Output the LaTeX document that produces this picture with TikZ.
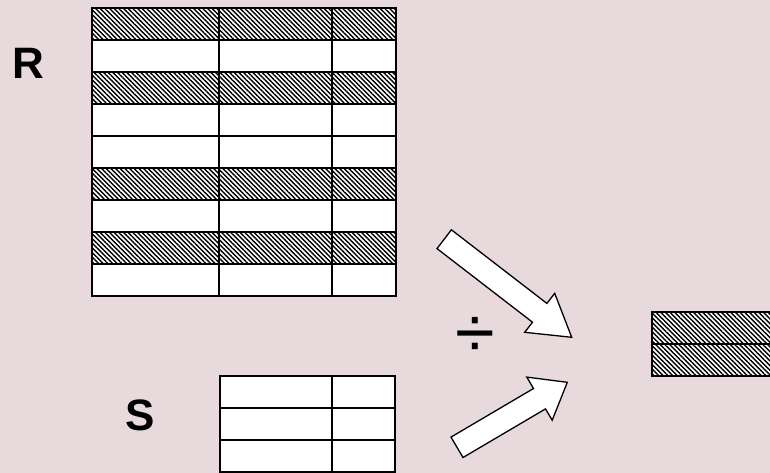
\documentclass[tikz,border=0pt]{standalone}
\usepackage{fontspec}
\setmainfont{Liberation Sans}
\usetikzlibrary{patterns.meta}
\definecolor{bg}{RGB}{232,217,221}
\begin{document}
\begin{tikzpicture}[x=1pt,y=-1pt,
  grid/.style={draw=black,line width=2pt},
  hatch/.style={pattern={Lines[angle=-45,distance=3.3pt,line width=1.4pt]},pattern color=black},
  blockarrow/.style={draw=black,line width=1.3pt,fill=white,line join=miter},
  lbl/.style={inner sep=0pt,font=\fontsize{44}{44}\selectfont\bfseries}]
\useasboundingbox (0,0) rectangle (770,473);
\fill[bg] (0,0) rectangle (770,473);
% ---- table R ----
\fill[white] (92,8) rectangle (396,296);
\foreach \r in {0,2,5,7} \fill[hatch] (92,{8+32*\r}) rectangle (396,{40+32*\r});
\foreach \r in {1,...,8} \draw[grid] (92,{8+32*\r}) -- (396,{8+32*\r});
\draw[grid] (219,8) -- (219,296) (332,8) -- (332,296);
\draw[grid] (92,8) rectangle (396,296);
% ---- table S ----
\fill[white] (220,376) rectangle (395,472);
\draw[grid] (220,408) -- (395,408) (220,440) -- (395,440) (332,376) -- (332,472);
\draw[grid] (220,376) rectangle (395,472);
% ---- result table ----
\fill[white] (652,312) rectangle (772,376);
\fill[hatch] (652,312) rectangle (772,376);
\draw[grid] (652,344) -- (772,344);
\draw[grid] (772,312) -- (652,312) -- (652,376) -- (772,376);
% ---- labels ----
\node[lbl] (R) at (28,63) {R};
\node[lbl] (S) at (140,415) {S};
\node[inner sep=0pt,font=\fontsize{72}{72}\selectfont] (div) at (475,337) {÷};
% ---- block arrows ----
\draw[blockarrow] (437.0,248.6) -- (532.5,322.2) -- (524.7,332.3) -- (571.7,337.3)
  -- (554.7,293.3) -- (546.9,303.4) -- (451.4,229.8) -- cycle;
\draw[blockarrow] (463.0,457.5) -- (545.5,408.9) -- (552.2,420.2) -- (567.3,382.3)
  -- (526.8,377.1) -- (533.5,388.5) -- (451.0,437.1) -- cycle;
\end{tikzpicture}
\end{document}
